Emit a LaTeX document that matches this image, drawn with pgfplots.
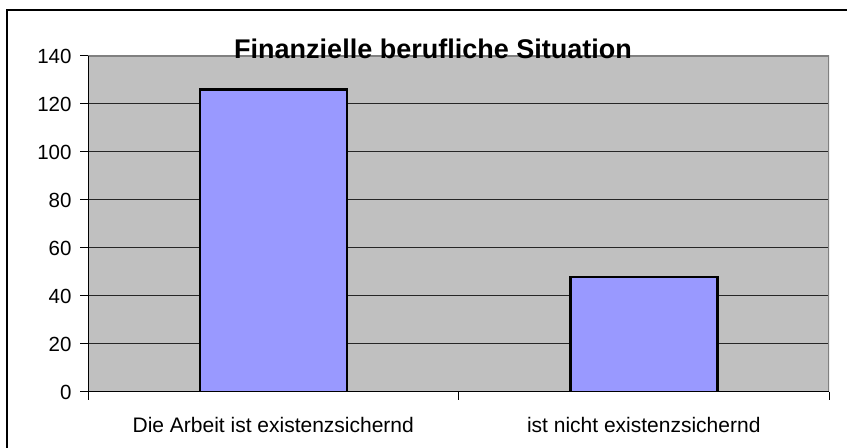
\documentclass[border=0pt]{standalone}
\usepackage{fontspec}
\setmainfont{Liberation Sans}
\usepackage{pgfplots}
\pgfplotsset{compat=1.18}
\definecolor{plotbg}{HTML}{C0C0C0}
\definecolor{barcol}{HTML}{9999FF}
\definecolor{framegray}{HTML}{808080}
\begin{document}
\begin{tikzpicture}[x=1bp,y=1bp]
\useasboundingbox (0,0) rectangle (847,448);
\draw[line width=1.5bp] (7,0) -- (7,438) -- (847,438);
\begin{axis}[
 at={(88bp,56bp)}, anchor=south west,
 scale only axis, width=741bp, height=336bp,
 xmin=0, xmax=2, ymin=0, ymax=140,
 ytick={0,20,...,140},
 xtick={0,1,2}, xticklabels={},
 extra x ticks={0.5,1.5},
 extra x tick labels={Die Arbeit ist existenzsichernd, ist nicht existenzsichernd},
 extra x tick style={major tick length=0pt},
 xtick pos=bottom, ytick pos=left,
 tick align=outside, major tick length=8bp,
 tick style={black, line width=1bp},
 ymajorgrids, grid style={black!85, line width=1bp},
 axis background/.style={fill=plotbg},
 axis line style={draw=none},
 /pgf/number format/assume math mode=true,
 yticklabel style={font=\fontsize{20.5bp}{24bp}\selectfont, xshift=-5bp},
 xticklabel style={font=\fontsize{21bp}{25bp}\selectfont, yshift=-22bp},
 ybar, bar width=147bp,
]
\addplot[fill=barcol, draw=black, line width=2.5bp] coordinates {(0.5,126) (1.5,48)};
\draw[framegray, line width=2.5bp] (rel axis cs:0,1) -- (rel axis cs:1,1) -- (rel axis cs:1,0);
\draw[black, line width=1.5bp] (rel axis cs:0,1) -- (rel axis cs:0,0) -- (rel axis cs:1,0);
\end{axis}
\node[font=\bfseries\fontsize{27bp}{32bp}\selectfont, anchor=base] at (433,389) {Finanzielle berufliche Situation};
\end{tikzpicture}
\end{document}
